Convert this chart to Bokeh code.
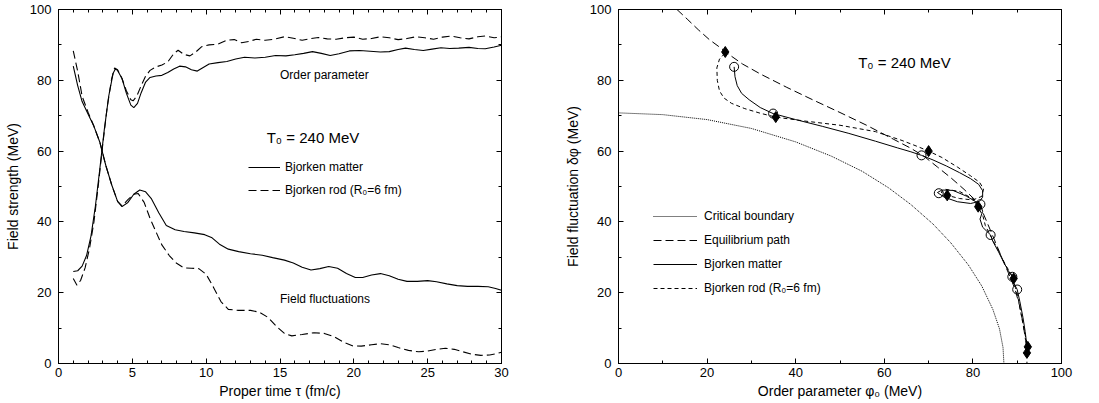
from bokeh.plotting import figure
from bokeh.models import (Range1d, LinearAxis, SingleIntervalTicker, Legend,
                          LegendItem, Label)
from bokeh.layouts import row
from bokeh.embed import file_html
from bokeh.resources import INLINE

FONT = "Liberation Sans"

# ---------------- Left panel data: field strength vs proper time ----------------
tau_fluct_matter = [1.0, 1.3, 1.6, 2.0, 2.4, 2.8, 3.2, 3.6, 4.0, 4.3, 4.7, 5.1, 5.5, 5.9, 6.3,
                    6.8, 7.3, 7.9, 8.5, 9.2, 9.9, 10.4, 10.9, 11.5, 12.2, 13.0, 13.8, 14.5,
                    15.3, 15.9, 16.5, 17.1, 17.7, 18.3, 18.9, 19.5, 20.1, 20.6, 21.2, 21.8,
                    22.4, 23.0, 23.6, 24.3, 25.0, 25.6, 26.3, 27.0, 27.7, 28.4, 29.1, 29.6, 30.0]
fluct_matter = [84, 78.5, 74, 70.5, 67, 62.5, 56, 50.5, 45.8, 44.3, 45.5, 47.8, 49, 48.5, 46.5,
                42.5, 39, 37.8, 37.3, 36.9, 36.4, 35.5, 33.7, 32.3, 31.6, 31.0, 30.6, 29.9,
                29.2, 28.4, 27.2, 26.4, 26.8, 27.4, 26.9, 25.4, 24.3, 24.3, 25.0, 25.4,
                24.8, 23.8, 23.2, 23.2, 23.4, 23.1, 22.5, 22.0, 21.8, 21.8, 21.7, 21.2, 20.7]

tau_fluct_rod = [1.0, 1.3, 1.6, 2.0, 2.4, 2.8, 3.2, 3.6, 4.0, 4.3, 4.7, 5.1, 5.4, 5.8, 6.2,
                 6.6, 7.0, 7.5, 8.0, 8.5, 9.0, 9.5, 10.0, 10.5, 11.0, 11.5, 12.2, 13.0, 13.6,
                 14.2, 14.8, 15.3, 15.8, 16.5, 17.3, 18.0, 18.7, 19.3, 19.9, 20.5, 21.2, 21.8,
                 22.4, 23.0, 23.7, 24.4, 25.0, 25.6, 26.2, 26.8, 27.4, 28.0, 28.6, 29.2, 29.7, 30.0]
fluct_rod = [88.3, 82.5, 75.5, 71, 67, 62.5, 56, 50.5, 45.8, 44.5, 46.3, 47.8, 48, 45.5, 41,
             37.2, 33.5, 30.5, 28.3, 27, 26.9, 26.8, 25.2, 21.5, 17.5, 15.3, 15.0, 15.0, 14.5,
             13.0, 10.3, 8.5, 7.8, 8.2, 8.7, 8.5, 7.5, 6.0, 5.0, 4.9, 5.3, 5.6,
             5.3, 4.5, 3.7, 3.3, 3.5, 4.0, 4.3, 4.0, 3.3, 2.6, 2.3, 2.4, 2.8, 3.2]

tau_order_matter = [1.0, 1.3, 1.6, 1.9, 2.2, 2.5, 2.8, 3.1, 3.4, 3.7, 3.85, 4.0, 4.3, 4.6, 4.9,
                    5.1, 5.35, 5.6, 5.9, 6.2, 6.6, 7.0, 7.4, 7.8, 8.2, 8.6, 9.0, 9.4, 9.8,
                    10.2, 10.8, 11.4, 12.0, 12.6, 13.3, 14.0, 14.7, 15.4, 16.0, 16.6, 17.2,
                    17.8, 18.4, 19.0, 19.7, 20.4, 21.1, 21.8, 22.4, 23.0, 23.5, 24.1, 24.7,
                    25.3, 25.9, 26.5, 27.1, 27.8, 28.4, 28.9, 29.5, 30.0]
order_matter = [26, 26.2, 27.5, 30.5, 36, 44.5, 55, 66, 75.5, 82, 83.2, 82.8, 80.5, 76.3, 73,
                72.3, 73.5, 76.5, 79.5, 80.8, 81.2, 81.4, 82.2, 83.2, 84.0, 83.8, 83.0, 82.6, 83.6,
                84.6, 85.0, 85.3, 86.0, 86.5, 86.3, 86.5, 87.0, 86.9, 87.2, 87.6, 88.1,
                87.6, 87.0, 87.5, 88.3, 88.4, 88.2, 88.0, 88.1, 88.7, 89.1, 88.7, 88.4,
                88.8, 89.2, 89.0, 89.1, 89.3, 89.0, 88.9, 89.4, 89.9]

tau_order_rod = [1.0, 1.25, 1.5, 1.8, 2.1, 2.4, 2.7, 3.0, 3.3, 3.6, 3.8, 4.0, 4.3, 4.6, 4.9,
                 5.05, 5.3, 5.6, 5.9, 6.2, 6.6, 7.0, 7.4, 7.8, 8.1, 8.5, 8.9, 9.3, 9.7,
                 10.2, 10.8, 11.4, 11.9, 12.4, 12.9, 13.4, 14.0, 14.6, 15.3, 15.9, 16.5,
                 17.1, 17.6, 18.2, 18.8, 19.4, 20.0, 20.6, 21.2, 21.8, 22.4, 23.0, 23.6,
                 24.2, 24.8, 25.4, 26.0, 26.6, 27.2, 27.8, 28.4, 28.9, 29.5, 30.0]
order_rod = [24, 22.1, 23.5, 27, 32.5, 40, 50.5, 62, 72.5, 80.5, 83.5, 83, 80.5, 77, 74.5,
             74.2, 75.5, 78.5, 81.2, 82.8, 83.8, 84.3, 85.2, 87.5, 88.5, 87.3, 86.9, 88.0, 89.5,
             90.0, 90.2, 91.3, 91.5, 90.6, 91.0, 91.6, 91.3, 91.6, 92.3, 91.9, 91.3,
             91.8, 92.1, 91.7, 91.6, 92.0, 92.2, 91.6, 91.8, 92.3, 92.0, 91.5, 91.8,
             92.3, 92.0, 91.6, 92.2, 92.5, 92.0, 91.7, 92.3, 92.5, 92.0, 92.3]

# ---------------- Right panel data: fluctuation vs order parameter ----------------
crit_phi = [0, 10, 20, 30, 40, 48, 55, 61, 66, 71, 75, 79, 82, 84.5, 86, 86.8, 87.0]
crit_dphi = [70.8, 70.3, 68.9, 66.4, 62.6, 58.6, 54.3, 49.6, 44.9, 39.4, 34.1, 27.8, 21.9,
             15.3, 9.8, 4.5, 0.0]

eq_phi = [13.2, 15.5, 18, 20.5, 23, 25.5, 28, 32, 38, 44, 50, 56, 62, 66, 69, 72, 75, 78,
          80.5, 82.3, 84, 85.5, 87, 88.5, 89.5, 90.5, 91.3, 91.9, 92.2, 92.2]
eq_dphi = [100, 97.3, 94.3, 91.5, 89.2, 86.8, 84.6, 81.8, 78.0, 74.4, 70.9, 67.3, 63.4, 60.8,
           58.5, 55.5, 52.5, 49.2, 46.2, 42.5, 37.5, 33, 28.5, 24.2, 21, 16.5, 11.5, 6.5, 3, 0]

matter_phi = [26.1, 26.3, 26.8, 27.8, 29.5, 32.0, 34.9, 40, 46, 52, 58, 63, 66, 68.4, 71, 74,
              77, 79.5, 81.3, 82.2, 82.2, 81.5, 79.5, 76.5, 73.5, 72.0, 73.0, 75.5, 78.5, 80.5,
              81.7, 82.2, 81.6, 82.2, 84.0, 84.5, 85.8, 87.0, 88.0, 88.9, 89.2, 90.0, 90.6,
              91.3, 91.8, 92.2]
matter_dphi = [83.8, 81, 78.5, 76.3, 74.5, 72.3, 70.6, 68.9, 67.0, 65.0, 62.8, 60.9, 59.8, 58.8,
               57.5, 55.8, 53.9, 52.2, 50.6, 48.8, 47.0, 45.8, 45.2, 45.7, 47.0, 48.3, 49.0,
               48.9, 47.3, 45.8, 45.0, 43.0, 40.8, 38.5, 36.3, 34.5, 31.5, 28.5, 26.2, 24.5,
               22.8, 20.9, 17.5, 13, 9, 5]

rod_phi = [24.0, 22.8, 22.2, 22.3, 22.8, 23.8, 25.5, 28.5, 32, 35.5, 42, 50, 58, 64, 67.5, 70,
           73, 76.5, 79.5, 81.5, 82.4, 82, 80, 77, 74.2, 72.8, 73.8, 77, 80, 81.2, 82.3, 82.8,
           83.8, 85.5, 87.3, 88.5, 89.2, 89.6, 90.2, 90.8, 91.4, 91.9, 92.4, 92.2]
rod_dphi = [87.6, 86.0, 83.5, 80, 77, 75.0, 73.5, 72.0, 70.7, 69.6, 68.5, 67.3, 65.5, 63.0,
            61.3, 60.0, 58.2, 55.5, 53.0, 51.2, 49.3, 47.2, 46.2, 46.6, 47.5, 48.4, 49.2, 48.6,
            46.5, 44.3, 41.5, 39, 36.5, 32.5, 28, 25.5, 24.0, 21.5, 18.5, 14.5, 10.5, 7.5,
            4.7, 3.0]

diamond_phi = [24.1, 35.5, 70.0, 74.2, 81.2, 89.2, 92.4, 92.2]
diamond_dphi = [88.0, 69.6, 60.0, 47.5, 44.3, 24.0, 4.7, 3.0]
circle_phi = [26.1, 34.9, 68.4, 72.3, 81.7, 84.0, 88.9, 90.0]
circle_dphi = [83.8, 70.6, 58.8, 48.1, 45.0, 36.3, 24.5, 20.9]


def style_axis(ax, interval, minor, labels=True):
    ax.ticker = SingleIntervalTicker(interval=interval, num_minor_ticks=minor)
    ax.major_tick_in = 5
    ax.major_tick_out = 0
    ax.minor_tick_in = 3
    ax.minor_tick_out = 0
    ax.axis_line_color = "black"
    ax.major_tick_line_color = "black"
    ax.minor_tick_line_color = "black"
    ax.major_label_text_font = FONT
    ax.major_label_text_font_size = "13px"
    ax.major_label_text_color = "black"
    ax.axis_label_text_font = FONT
    ax.axis_label_text_font_size = "14px"
    ax.axis_label_text_font_style = "normal"
    ax.axis_label_text_color = "black"
    if not labels:
        ax.major_label_text_color = None
        ax.major_label_text_font_size = "1px"
        ax.major_label_standoff = 0
        ax.axis_label = None


def make_fig(width, x_end, xint, xminor, bl, br, xlabel, ylabel):
    p = figure(width=width, height=403, x_range=Range1d(0, x_end), y_range=Range1d(0, 100),
               output_backend="svg", toolbar_location=None,
               min_border_left=bl, min_border_right=br, min_border_top=9, min_border_bottom=40)
    p.grid.grid_line_color = None
    p.outline_line_color = "black"
    p.background_fill_color = "white"
    p.border_fill_color = "white"
    bottom = p.xaxis[0]
    left = p.yaxis[0]
    style_axis(bottom, xint, xminor)
    style_axis(left, 20, 2)
    bottom.axis_label = xlabel
    left.axis_label = ylabel
    bottom.major_label_standoff = 4
    bottom.axis_label_standoff = 3
    left.major_label_standoff = 7
    left.axis_label_standoff = 6
    top = LinearAxis()
    style_axis(top, xint, xminor, labels=False)
    right = LinearAxis()
    style_axis(right, 20, 2, labels=False)
    p.add_layout(top, "above")
    p.add_layout(right, "right")
    return p


# ---------------- Left panel ----------------
p1 = make_fig(550, 30, 5, 5, 58, 49, "Proper time τ (fm/c)", "Field strength (MeV)")

r_m1 = p1.line(tau_fluct_matter, fluct_matter, line_color="black", line_width=1.1)
r_r1 = p1.line(tau_fluct_rod, fluct_rod, line_color="black", line_width=1.1, line_dash="8 4")
p1.line(tau_order_matter, order_matter, line_color="black", line_width=1.1)
p1.line(tau_order_rod, order_rod, line_color="black", line_width=1.1, line_dash="8 4")

for txt, x, y, fs in [("Order parameter", 15.0, 81.4, "12px"),
                      ("Field fluctuations", 15.0, 18.2, "12px"),
                      ("T₀ = 240 MeV", 14.1, 63.9, "15px")]:
    p1.add_layout(Label(x=x, y=y, text=txt, text_font=FONT, text_font_size=fs,
                        text_baseline="middle", text_color="black"))

leg1 = Legend(items=[LegendItem(label="Bjorken matter", renderers=[r_m1]),
                     LegendItem(label="Bjorken rod (R₀=6 fm)", renderers=[r_r1])],
              location=(190, 163), border_line_color=None, background_fill_alpha=0,
              padding=0, margin=0, spacing=3, glyph_width=32, glyph_height=20,
              label_height=20, label_standoff=5, label_text_font=FONT,
              label_text_font_size="12px", label_text_color="black")
p1.add_layout(leg1)

# ---------------- Right panel ----------------
p2 = make_fig(549, 100, 20, 2, 68, 38, "Order parameter φ₀ (MeV)", "Field fluctuation δφ (MeV)")

r_c = p2.line(crit_phi, crit_dphi, line_color="black", line_width=1.0, line_dash="1 1")
r_e = p2.line(eq_phi, eq_dphi, line_color="black", line_width=1.0, line_dash="8 4")
r_m = p2.line(matter_phi, matter_dphi, line_color="black", line_width=1.0)
r_r = p2.line(rod_phi, rod_dphi, line_color="black", line_width=1.0, line_dash="4 3")
p2.scatter(circle_phi, circle_dphi, marker="circle", size=9, fill_color=None,
           line_color="black", line_width=1)
p2.scatter(diamond_phi, diamond_dphi, marker="diamond", size=11, fill_color="black",
           line_color="black")

p2.add_layout(Label(x=54.1, y=85.1, text="T₀ = 240 MeV", text_font=FONT,
                    text_font_size="15px", text_baseline="middle", text_color="black"))

leg2 = Legend(items=[LegendItem(label="Critical boundary", renderers=[r_c]),
                     LegendItem(label="Equilibrium path", renderers=[r_e]),
                     LegendItem(label="Bjorken matter", renderers=[r_m]),
                     LegendItem(label="Bjorken rod (R₀=6 fm)", renderers=[r_r])],
              location=(35, 65), border_line_color=None, background_fill_alpha=0,
              padding=0, margin=0, spacing=4, glyph_width=44, glyph_height=20,
              label_height=20, label_standoff=7, label_text_font=FONT,
              label_text_font_size="12px", label_text_color="black")
p2.add_layout(leg2)

layout = row(p1, p2)
open("out.html", "w").write(file_html(layout, INLINE))
